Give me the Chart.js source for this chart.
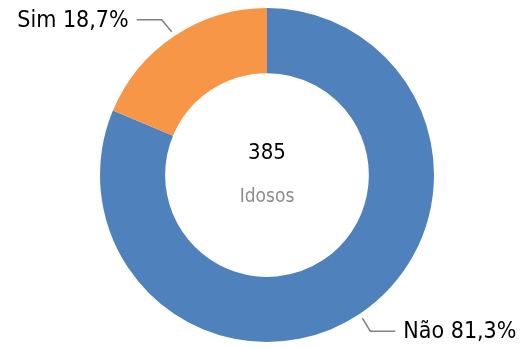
<!DOCTYPE html>
<html>
<head>
<meta charset="utf-8">
<script src="https://cdn.jsdelivr.net/npm/chart.js@4"></script>
<style>
  html, body { margin: 0; padding: 0; background: #fff; }
  #wrap { width: 521px; height: 348px; }
</style>
</head>
<body>
<div id="wrap"><canvas id="idososChart" width="521" height="348"></canvas></div>
<script>
const categories = ["Não", "Sim"];
const percentages = [81.3, 18.7];
const total = 385;
const totalLabel = "Idosos";

const colors = ["#4F81BD", "#F79646"];
const fontFamily = "'DejaVu Sans Condensed', 'DejaVu Sans', sans-serif";

// center number and caption
const centerText = {
    id: 'centerText',
    afterDraw(chart) {
        const arc = chart.getDatasetMeta(0).data[0];
        const ctx = chart.ctx;
        ctx.save();
        ctx.textAlign = 'center';
        ctx.textBaseline = 'middle';
        ctx.fillStyle = '#000';
        ctx.font = '22px ' + fontFamily;
        ctx.fillText(String(total), arc.x, arc.y - 22);
        ctx.fillStyle = '#8c8c8c';
        ctx.font = '19px ' + fontFamily;
        ctx.fillText(totalLabel, arc.x, arc.y + 22);
        ctx.restore();
    }
};

// outside labels with an elbow leader line
const outsideLabels = {
    id: 'outsideLabels',
    afterDraw(chart) {
        const ctx = chart.ctx;
        const meta = chart.getDatasetMeta(0);
        meta.data.forEach((arc, i) => {
            const mid = (arc.startAngle + arc.endAngle) / 2;
            const r = arc.outerRadius + 5;
            const ax = arc.x + Math.cos(mid) * r;
            const ay = arc.y + Math.sin(mid) * r;
            const right = Math.cos(mid) >= 0;
            const down = Math.sin(mid) >= 0;
            const ex = ax + (right ? 8 : -10);
            const ey = ay + (down ? 13 : -12);
            const hx = ex + (right ? 25 : -25);

            ctx.save();
            ctx.strokeStyle = '#808080';
            ctx.lineWidth = 1.5;
            ctx.beginPath();
            ctx.moveTo(ax, ay);
            ctx.lineTo(ex, ey);
            ctx.lineTo(hx, ey);
            ctx.stroke();

            const text = categories[i] + ' ' + percentages[i].toFixed(1).replace('.', ',') + '%';
            ctx.fillStyle = '#000';
            ctx.font = '23px ' + fontFamily;
            ctx.textBaseline = 'middle';
            ctx.textAlign = right ? 'left' : 'right';
            ctx.fillText(text, hx + (right ? 8 : -8), ey + 1);
            ctx.restore();
        });
    }
};

new Chart(document.getElementById('idososChart'), {
    type: 'doughnut',
    data: {
        labels: categories,
        datasets: [{
            data: percentages,
            backgroundColor: colors,
            borderWidth: 0
        }]
    },
    options: {
        responsive: false,
        animation: false,
        cutout: '61%',
        layout: {
            padding: { top: 8, bottom: 6, left: 13, right: 0 }
        },
        plugins: {
            legend: { display: false },
            tooltip: { enabled: false }
        }
    },
    plugins: [centerText, outsideLabels]
});
</script>
</body>
</html>
